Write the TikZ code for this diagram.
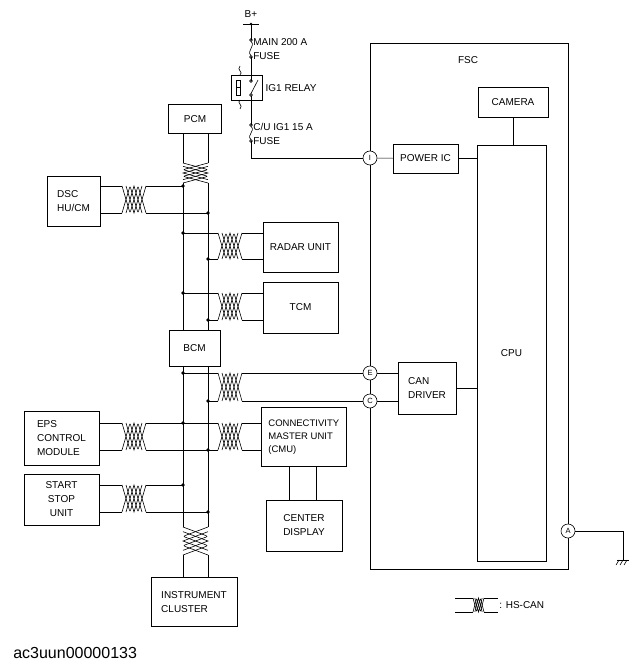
\documentclass[tikz,border=0pt]{standalone}
\usepackage{fontspec}
\setmainfont{Liberation Sans}
\usetikzlibrary{positioning, calc}

% twisted pair, horizontal: x1, x2, upper y, lower y
\newcommand{\twistH}[4]{%
  \draw[rounded corners=2pt] (#1,#3) -- ({#1+(#2-#1)/3},#4) -- ({#1+2*(#2-#1)/3},#3) -- (#2,#4);
  \draw[rounded corners=2pt] (#1,#4) -- ({#1+(#2-#1)/3},#3) -- ({#1+2*(#2-#1)/3},#4) -- (#2,#3);
  \draw ({#1+(#2-#1)/6},#3) -- ({#1+(#2-#1)/2},#4) -- ({#1+5*(#2-#1)/6},#3);
  \draw ({#1+(#2-#1)/6},#4) -- ({#1+(#2-#1)/2},#3) -- ({#1+5*(#2-#1)/6},#4);}
% twisted pair, vertical: y1, y2, left x, right x
\newcommand{\twistV}[4]{%
  \draw[rounded corners=2pt] (#3,#1) -- (#4,{#1+(#2-#1)/3}) -- (#3,{#1+2*(#2-#1)/3}) -- (#4,#2);
  \draw[rounded corners=2pt] (#4,#1) -- (#3,{#1+(#2-#1)/3}) -- (#4,{#1+2*(#2-#1)/3}) -- (#3,#2);
  \draw (#3,{#1+(#2-#1)/6}) -- (#4,{#1+(#2-#1)/2}) -- (#3,{#1+5*(#2-#1)/6});
  \draw (#4,{#1+(#2-#1)/6}) -- (#3,{#1+(#2-#1)/2}) -- (#4,{#1+5*(#2-#1)/6});}
% fuse symbol at x, from y1 to y2
\newcommand{\fuse}[3]{%
  \draw (#1,#2) circle (1.4);
  \draw (#1,#3) circle (1.4);
  \draw (#1,#2+1.4) .. controls (#1+5,#2+6) and (#1-5,#3-6) .. (#1,#3-1.4);}

\begin{document}
\begin{tikzpicture}[x=1pt, y=-1pt, line width=0.6pt,
    lbl/.style={font=\fontsize{10}{14}\selectfont},
    box/.style={draw, inner sep=0pt, align=center, lbl},
    pin/.style={draw, circle, fill=white, minimum size=14pt, inner sep=0pt, font=\fontsize{7.5}{8}\selectfont},
    dot/.style={circle, fill, inner sep=1.3pt}]
  \useasboundingbox (0,0) rectangle (638,668);

  % FSC
  \draw (370,43) rectangle (568,569);
  \node[lbl] (fsc) at (468,60) {FSC};
  \node[box, minimum width=70pt, minimum height=30pt] (cam) at (513,102) {CAMERA};
  \node[box, minimum width=69pt, minimum height=416pt] (cpu) at (511.5,353) {CPU};
  \node[box, minimum width=65pt, minimum height=29pt] (pic) at (425.5,158.5) {POWER IC};
  \node[box, minimum width=58pt, minimum height=52pt, align=left] (cand) at (427,388) {CAN\\DRIVER};
  \draw (cam) -- (cam |- cpu.north);
  \draw (pic) -- (pic -| cpu.west);
  \draw (cand) -- (cand -| cpu.west);
  \node[pin] (pI) at (370,158) {I};
  \node[pin] (pE) at (370,373) {E};
  \node[pin] (pC) at (370,401) {C};
  \node[pin] (pA) at (568,531) {A};
  \draw (pI) -- (pic);
  \draw (pE) -- (pE -| cand.west);
  \draw (pC) -- (pC -| cand.west);

  % ground
  \coordinate (gnd) at (623,560);
  \draw (pA) -- (pA -| gnd) -- (gnd);
  \draw (617,560) -- (629,560);
  \foreach \g in {619,623,627} \draw (\g,560) -- (\g-3,565);

  % power supply
  \node[lbl] (bplus) at (251,14) {B+};
  \draw (243,24) -- (259,24);
  \node[dot, inner sep=1pt] at (251,24) {};
  \draw (251,24) -- (251,40);
  \fuse{251}{40}{57}
  \node[right, lbl, align=left, inner sep=1pt] at (252,49) {MAIN 200 A\\FUSE};
  \draw (251,57) -- (251,81);
  \draw (231,75) rectangle (262,100);
  \draw (236,80) rectangle (240,95);
  \draw (236,87.5) -- (240,87.5);
  \draw (240,66) .. controls (236,70) and (244,72) .. (240,75);
  \draw (240,100) .. controls (236,103) and (244,105) .. (240,109);
  \draw (251,81) circle (1.4) (251,95) circle (1.4);
  \draw (251,93.6) -- (258,80);
  \node[right, lbl] at (262,88) {IG1 RELAY};
  \draw (251,96.4) -- (251,125);
  \fuse{251}{125}{141}
  \node[right, lbl, align=left, inner sep=1pt] at (252,134) {C/U IG1 15 A\\FUSE};
  \draw (251,141) -- (251,158) -- (pI);

  % CAN bus modules
  \node[box, minimum width=53pt, minimum height=29pt] (pcm) at (195,119) {PCM};
  \node[box, minimum width=51pt, minimum height=36pt] (bcm) at (194.5,348) {BCM};
  \node[box, minimum width=53pt, minimum height=50pt, align=left] (dsc) at (73.5,201) {DSC\\HU/CM};
  \node[box, minimum width=75pt, minimum height=50pt] (radar) at (300.5,247) {RADAR UNIT};
  \node[box, minimum width=75pt, minimum height=51pt] (tcm) at (300.5,307.5) {TCM};
  \node[box, minimum width=75pt, minimum height=54pt, align=left] (eps) at (61.5,438) {EPS\\CONTROL\\MODULE};
  \node[box, minimum width=75pt, minimum height=51pt] (ssu) at (61.5,499.5) {START\\STOP\\UNIT};
  \node[box, minimum width=85pt, minimum height=59pt, align=left, anchor=north west,
        font=\fontsize{9.5}{13}\selectfont] (cmu) at (261,407) {CONNECTIVITY\\MASTER UNIT\\(CMU)};
  \node[box, minimum width=76pt, minimum height=51pt] (cdisp) at (304,525.5) {CENTER\\DISPLAY};
  \node[box, minimum width=86pt, minimum height=49pt, align=left] (ic) at (194,602) {INSTRUMENT\\CLUSTER};
  \draw (289,466) -- (289,500);
  \draw (316,466) -- (316,500);

  % bus
  \draw (183,134) -- (183,163) (208,134) -- (208,163);
  \twistV{163}{183}{183}{208}
  \draw (183,183) -- (183,330) (208,183) -- (208,330);
  \draw (183,366) -- (183,527) (208,366) -- (208,527);
  \twistV{527}{555}{183}{208}
  \draw (183,555) -- (183,577) (208,555) -- (208,577);

  % branches
  \draw (dsc.east |- 0,186) -- (122,186) (dsc.east |- 0,213) -- (122,213);
  \twistH{122}{146}{186}{213}
  \draw (146,186) -- (183,186) (146,213) -- (208,213);
  \foreach \lo/\hi/\bx in {233/259/radar, 293/320/tcm}{
    \draw (183,\lo) -- (218,\lo) (208,\hi) -- (218,\hi);
    \twistH{218}{242}{\lo}{\hi}
    \draw (242,\lo) -- (\bx.west |- 0,\lo) (242,\hi) -- (\bx.west |- 0,\hi);
  }
  \draw (183,373) -- (218,373) (208,401) -- (218,401);
  \twistH{218}{242}{373}{401}
  \draw (242,373) -- (pE) (242,401) -- (pC);
  \draw (eps.east |- 0,423) -- (122,423) (eps.east |- 0,450) -- (122,450);
  \twistH{122}{146}{423}{450}
  \draw (146,423) -- (218,423) (146,450) -- (218,450);
  \twistH{218}{242}{423}{450}
  \draw (242,423) -- (261,423) (242,450) -- (261,450);
  \draw (ssu.east |- 0,485) -- (122,485) (ssu.east |- 0,512) -- (122,512);
  \twistH{122}{146}{485}{512}
  \draw (146,485) -- (183,485) (146,512) -- (208,512);

  \foreach \p in {(183,186),(208,213),(183,233),(208,259),(183,293),(208,320),
                  (183,373),(208,401),(183,423),(208,450),(183,485),(208,512)}
    \node[dot] at \p {};

  % legend
  \draw (455,598) -- (473,598) (455,612) -- (473,612);
  \twistH{473}{484}{598}{612}
  \draw (484,598) -- (498,598) (484,612) -- (498,612);
  \node[right, lbl, inner sep=1pt] (leg) at (498,605) {: HS-CAN};

  \node[right, font=\fontsize{16}{18}\selectfont, inner sep=0pt] (cap) at (13,653) {ac3uun00000133};
\end{tikzpicture}
\end{document}
